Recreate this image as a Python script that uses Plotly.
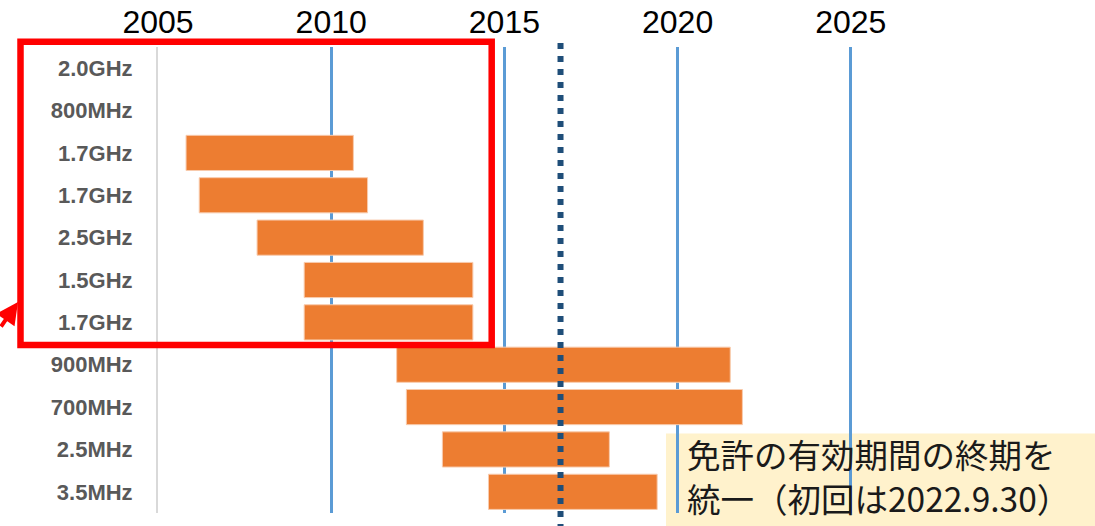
import plotly.graph_objects as go

# ---- data ----
bands = ["2.0GHz", "800MHz", "1.7GHz", "1.7GHz", "2.5GHz", "1.5GHz", "1.7GHz",
         "900MHz", "700MHz", "2.5MHz", "3.5MHz"]
start_year = [None, None, 2005.81, 2006.19, 2007.86, 2009.22, 2009.22,
              2011.89, 2012.17, 2013.21, 2014.54]
end_year = [None, None, 2010.64, 2011.05, 2012.66, 2014.09, 2014.09,
            2021.52, 2021.87, 2018.03, 2019.41]
year_ticks = [2005, 2010, 2015, 2020, 2025]
marker_year = 2016.62
note_text = "免許の有効期間の終期を<br>統一（初回は2022.9.30）"

rows = list(range(len(bands)))
durations = [None if s is None else e - s for s, e in zip(start_year, end_year)]

fig = go.Figure()
fig.add_trace(go.Bar(
    y=rows, x=durations, base=start_year, orientation="h",
    marker=dict(color="#ED7D31", line=dict(color="#F8CBAD", width=1)),
    hoverinfo="skip", showlegend=False,
))

W, H = 1095, 526
ml, mr, mt, mb = 158, 0, 47, 13
pw, ph = W - ml - mr, H - mt - mb
px_per_year = 34.64

def px_x(px):
    return (px - ml) / pw

def px_y(py):
    return (H - mb - py) / ph

# annotation background box (below grid)
fig.add_shape(type="rect", xref="paper", yref="paper",
              x0=px_x(666), x1=px_x(1100), y0=px_y(530), y1=px_y(433.5),
              fillcolor="#FFF2CC", line=dict(width=0), layer="below")

# dotted marker line
fig.add_shape(type="line", xref="x", yref="paper",
              x0=marker_year, x1=marker_year, y0=px_y(530), y1=px_y(41.5),
              line=dict(color="#1F4E79", width=6, dash="6px,7px"), layer="above")

# red highlight frame
fig.add_shape(type="rect", xref="paper", yref="paper",
              x0=px_x(20.5), x1=px_x(491.7), y0=px_y(345), y1=px_y(41.7),
              line=dict(color="#FF0000", width=6.5), fillcolor="rgba(0,0,0,0)",
              layer="above")

# red arrow coming from the left
fig.add_annotation(xref="paper", yref="paper", x=px_x(18), y=px_y(302),
                   ax=-32, ay=26, text="", showarrow=True,
                   arrowcolor="#FF0000", arrowwidth=4, arrowhead=2, arrowsize=1.1)

# note text
fig.add_annotation(xref="paper", yref="paper", x=px_x(685), y=px_y(475),
                   xanchor="left", yanchor="middle", align="left",
                   text=note_text, showarrow=False,
                   font=dict(family="Noto Sans CJK JP", size=33.5, color="#1A1A1A"))

fig.update_layout(
    width=W, height=H,
    margin=dict(l=ml, r=mr, t=mt, b=mb, pad=0, autoexpand=False),
    paper_bgcolor="white", plot_bgcolor="white",
    bargap=0.17,
    xaxis=dict(
        side="top", range=[2005, 2005 + pw / px_per_year],
        tickvals=year_ticks, ticktext=[str(v) for v in year_ticks],
        showgrid=True, gridcolor="#5B9BD5", gridwidth=2.5,
        zeroline=False, showline=False, ticks="", ticklabelstandoff=7,
        tickfont=dict(family="Liberation Sans, Arial", size=32, color="#000000"),
        automargin=False, fixedrange=True,
    ),
    yaxis=dict(
        range=[len(bands) - 0.5, -0.5],
        tickvals=rows, ticktext=bands,
        showgrid=False, zeroline=False,
        showline=True, linecolor="#D9D9D9", linewidth=2,
        ticks="", ticklabelstandoff=19,
        tickfont=dict(family="Liberation Sans, Arial", size=22, color="#595959",
                      weight="bold"),
        automargin=False, fixedrange=True,
    ),
)

fig.write_html("out.html", config={"displayModeBar": False},
               post_script="document.body.style.margin='0';document.body.style.overflow='hidden';")
